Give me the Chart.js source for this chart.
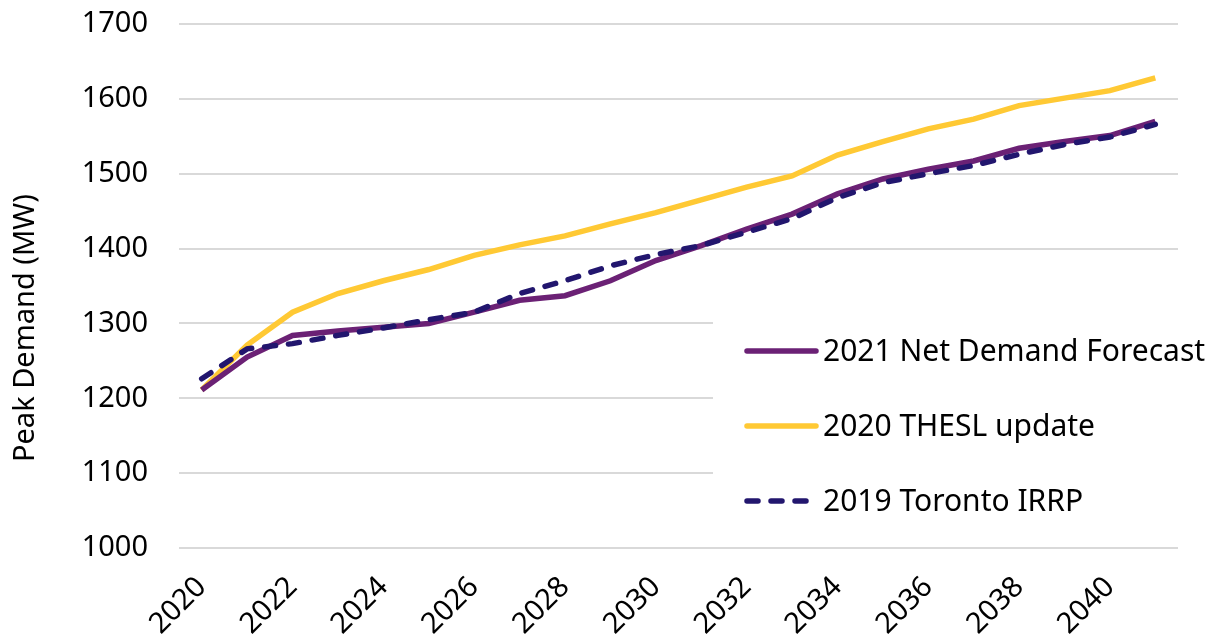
<!DOCTYPE html>
<html>
<head>
<meta charset="utf-8">
<script src="https://cdn.jsdelivr.net/npm/chart.js@4/dist/chart.umd.min.js"></script>
<style>
  html, body { margin: 0; padding: 0; background: #fff; }
  #wrap { width: 1223px; height: 641px; }
</style>
</head>
<body>
<div id="wrap"><canvas id="myChart" width="1223" height="641"></canvas></div>
<script>
// Years on the category axis
var years = ["2020", "2021", "2022", "2023", "2024", "2025", "2026", "2027", "2028", "2029", "2030",
             "2031", "2032", "2033", "2034", "2035", "2036", "2037", "2038", "2039", "2040", "2041"];

// Peak demand, MW
var netDemand2021 = [1211, 1255, 1284, 1290, 1295, 1300, 1315, 1331, 1337, 1357, 1384,
                     1404, 1426, 1446, 1473, 1493, 1506, 1517, 1534, 1543, 1551, 1570];
var theslUpdate2020 = [1211, 1271, 1315, 1340, 1357, 1372, 1391, 1405, 1417, 1433, 1448,
                       1465, 1482, 1497, 1525, 1543, 1560, 1573, 1591, 1601, 1611, 1628];
var torontoIrrp2019 = [1226, 1266, 1273, 1284, 1294, 1305, 1315, 1340, 1357, 1377, 1392,
                       1404, 1422, 1440, 1468, 1488, 1500, 1511, 1526, 1539, 1549, 1566];

var yTicks = [1000, 1100, 1200, 1300, 1400, 1500, 1600, 1700];
var yTitle = 'Peak Demand (MW)';

var FONT = "'Noto Sans', 'DejaVu Sans', sans-serif";

// legend drawn inside the plot, bottom right, on a white box
var insideLegend = {
    id: 'insideLegend',
    afterDatasetsDraw: function (chart) {
        var ctx = chart.ctx;
        var rows = [351, 426, 501];
        ctx.save();
        ctx.fillStyle = '#ffffff';
        ctx.fillRect(713, 305, 510, 222);
        chart.data.datasets.forEach(function (ds, i) {
            var y = rows[i];
            ctx.beginPath();
            ctx.lineWidth = ds.borderWidth;
            ctx.strokeStyle = ds.borderColor;
            ctx.lineCap = 'round';
            ctx.setLineDash(ds.borderDash || []);
            ctx.moveTo(747, y);
            ctx.lineTo(816, y);
            ctx.stroke();
            ctx.setLineDash([]);
            ctx.fillStyle = '#000';
            ctx.font = '30px ' + FONT;
            ctx.textBaseline = 'middle';
            ctx.textAlign = 'left';
            ctx.fillText(ds.label, 823, y + 1);
        });
        ctx.restore();
    }
};

// vertical axis title, sitting a bit below the middle of the axis
var axisTitle = {
    id: 'axisTitle',
    afterDraw: function (chart) {
        var ctx = chart.ctx;
        ctx.save();
        ctx.translate(26, 328);
        ctx.rotate(-Math.PI / 2);
        ctx.fillStyle = '#000';
        ctx.font = '29px ' + FONT;
        ctx.textAlign = 'center';
        ctx.textBaseline = 'middle';
        ctx.fillText(yTitle, 0, 0);
        ctx.restore();
    }
};

var ctx = document.getElementById('myChart').getContext('2d');
var chart = new Chart(ctx, {
    type: 'line',
    data: {
        labels: years,
        datasets: [{
            label: "2021 Net Demand Forecast",
            data: netDemand2021,
            borderColor: '#6b2175',
            borderWidth: 5.5,
            order: 1
        }, {
            label: "2020 THESL update",
            data: theslUpdate2020,
            borderColor: '#ffc934',
            borderWidth: 5.5,
            order: 2
        }, {
            label: "2019 Toronto IRRP",
            data: torontoIrrp2019,
            borderColor: '#22166e',
            borderWidth: 5.5,
            borderDash: [11, 13],
            borderCapStyle: 'round',
            order: 0
        }]
    },
    options: {
        responsive: false,
        animation: false,
        layout: { padding: { top: 24, right: 45, left: 0, bottom: 0 } },
        elements: {
            point: { radius: 0 },
            line: { tension: 0, fill: false }
        },
        plugins: {
            legend: { display: false },
            tooltip: { enabled: false }
        },
        scales: {
            x: {
                offset: true,
                grid: { display: false },
                border: { display: false },
                ticks: {
                    autoSkip: false,
                    maxRotation: 45,
                    minRotation: 45,
                    padding: 14,
                    color: '#000',
                    font: { family: FONT, size: 29 },
                    callback: function (v, i) { return i % 2 === 0 ? years[i] : ''; }
                },
                afterFit: function (s) { s.height = 93; s.paddingLeft = 0; s.paddingRight = 0; }
            },
            y: {
                min: yTicks[0],
                max: yTicks[yTicks.length - 1],
                afterBuildTicks: function (s) { s.ticks = yTicks.map(function (v) { return { value: v }; }); },
                grid: { color: '#d9d9d9', lineWidth: 2, drawTicks: false },
                border: { display: false },
                ticks: {
                    padding: 31,
                    color: '#000',
                    font: { family: FONT, size: 29 },
                    callback: function (v) { return String(v); }
                },
                afterFit: function (s) { s.width = 179; s.paddingTop = 0; s.paddingBottom = 0; }
            }
        }
    },
    plugins: [insideLegend, axisTitle]
});
</script>
</body>
</html>
